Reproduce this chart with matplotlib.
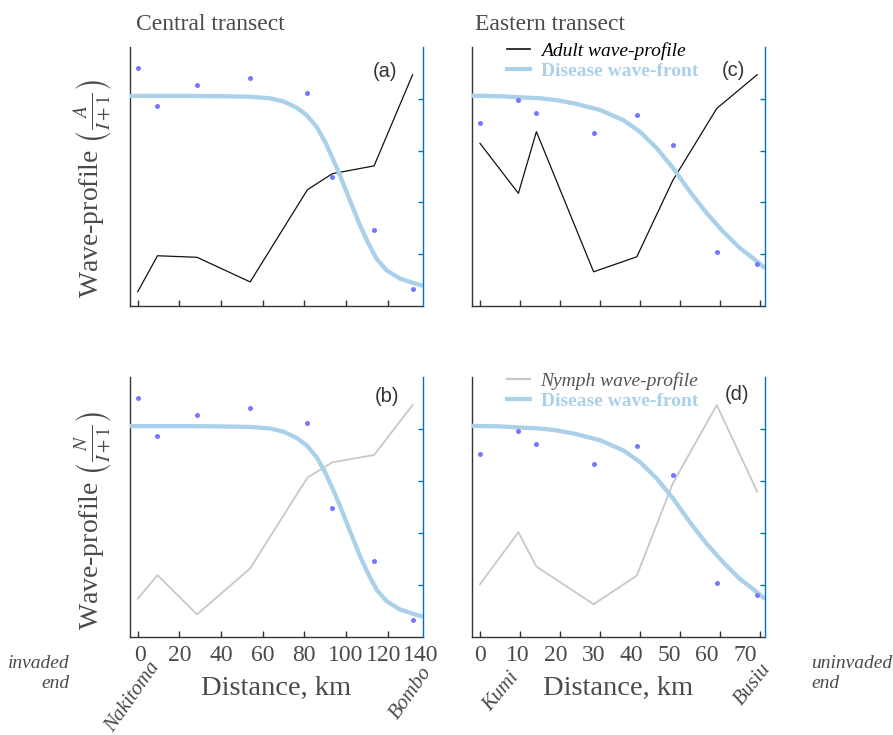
import matplotlib
matplotlib.use("Agg")
import matplotlib.pyplot as plt
from matplotlib.lines import Line2D

plt.rcParams['font.family'] = ['Liberation Serif', 'DejaVu Serif']
plt.rcParams['mathtext.fontset'] = 'stix'

# ---------------- data ----------------
central_km = [0, 9.5, 28.5, 54, 81.5, 93.5, 113.5, 132]
central_disease = [0.920, 0.772, 0.854, 0.880, 0.824, 0.497, 0.293, 0.067]
central_adult = [0.055, 0.194, 0.188, 0.093, 0.449, 0.511, 0.541, 0.893]
central_nymph = [0.147, 0.238, 0.087, 0.264, 0.613, 0.672, 0.700, 0.892]
central_front_km = [-3.7, 10, 25, 40, 53.9, 63.5, 69.9, 76.3, 81.1, 85.9, 89.9, 93.9,
                    97.1, 100.3, 103.5, 106.7, 110.7, 114.7, 119.5, 125.9, 132.3, 137]
central_front = [0.811, 0.811, 0.811, 0.810, 0.808, 0.802, 0.790, 0.766, 0.737, 0.692,
                 0.635, 0.565, 0.505, 0.440, 0.376, 0.312, 0.243, 0.182, 0.138, 0.106,
                 0.089, 0.078]

eastern_km = [0, 9.6, 14.1, 28.4, 39.2, 48.2, 59.2, 69.3]
eastern_disease = [0.705, 0.794, 0.744, 0.667, 0.736, 0.622, 0.207, 0.162]
eastern_adult = [0.628, 0.435, 0.673, 0.132, 0.190, 0.485, 0.763, 0.893]
eastern_nymph = [0.203, 0.403, 0.271, 0.126, 0.236, 0.591, 0.892, 0.559]
eastern_front_km = [-2, 5, 9.6, 15, 19, 23.3, 30, 35.8, 40, 44.2, 48.3, 52.5,
                    56.7, 60.8, 65, 68.3, 71.3]
eastern_front = [0.812, 0.810, 0.806, 0.802, 0.795, 0.783, 0.757, 0.718, 0.673, 0.609,
                 0.532, 0.441, 0.358, 0.287, 0.223, 0.184, 0.146]

central_ticks = [0, 20, 40, 60, 80, 100, 120]
central_ticklabel_pos = [1, 20, 40, 60, 80, 100, 118, 136]
central_ticklabels = ['0', '20', '40', '60', '80', '100', '120', '140']
eastern_ticks = [0, 10, 20, 30, 40, 50, 60, 70]
eastern_ticklabel_pos = [0, 9.5, 19, 28.3, 37.8, 47.3, 56.7, 66.2]
eastern_ticklabels = ['0', '10', '20', '30', '40', '50', '60', '70']
disease_ticks = [0.2, 0.4, 0.6, 0.8]

# ---------------- style ----------------
W, H = 893, 735
TXT = '#4a4a4a'
BLUE_AX = '#0072BD'
FRONT = '#abd0ea'
DOT = '#7777ff'

fig = plt.figure(figsize=(W / 100, H / 100), dpi=100)


def px_axes(l, t, r, b):
    return fig.add_axes([l / W, 1 - b / H, (r - l) / W, (b - t) / H])


def make_panel(box, km, disease, profile, prof_color, prof_lw, fkm, front,
               xlim, ticks, lab_pos, labels, show_labels, letter, letter_xy,
               legend_label=None):
    ax = px_axes(*box)
    ax2 = ax.twinx()
    ax.set_xlim(*xlim)
    ax.set_ylim(0, 1)
    ax2.set_ylim(0, 1)
    ax.plot(km, profile, color=prof_color, lw=prof_lw, zorder=2)
    ax2.plot(fkm, front, color=FRONT, lw=3.1, solid_capstyle='butt',
             solid_joinstyle='round', zorder=2)
    ax2.plot(km, disease, 'o', color=DOT, ms=3.6, mec='none', zorder=3)

    for s in ['top', 'right']:
        ax.spines[s].set_visible(False)
    for s in ['left', 'bottom']:
        ax.spines[s].set_color('#333333')
        ax.spines[s].set_linewidth(1.0)
    for s in ['top', 'left', 'bottom']:
        ax2.spines[s].set_visible(False)
    ax2.spines['right'].set_color(BLUE_AX)
    ax2.spines['right'].set_linewidth(1.0)

    ax.set_yticks([])
    ax2.set_yticks(disease_ticks)
    ax2.set_yticklabels([])
    ax2.tick_params(axis='y', direction='in', length=3.5, color=BLUE_AX, width=1)

    ax.xaxis.remove_overlapping_locs = False
    ax.set_xticks(ticks)
    ax.set_xticklabels([])
    ax.tick_params(axis='x', which='major', direction='in', length=4,
                   color='#333333', width=1)
    if show_labels:
        ax.set_xticks(lab_pos, labels, minor=True)
        ax.tick_params(axis='x', which='minor', length=0, pad=6,
                       labelsize=17, labelcolor=TXT)

    ax.text(letter_xy[0], letter_xy[1], letter, transform=ax.transAxes,
            ha='center', va='center', fontsize=14.5, color='#333333',
            family='Liberation Sans')

    if legend_label is not None:
        handles = [Line2D([], [], color=prof_color, lw=prof_lw + 0.3),
                   Line2D([], [], color=FRONT, lw=3.0)]
        leg = ax2.legend(handles, [legend_label, 'Disease wave-front'],
                         loc='upper left', bbox_to_anchor=(0.118, 1.02),
                         frameon=False, borderpad=0, borderaxespad=0,
                         handlelength=1.2, handletextpad=0.55, labelspacing=0.15,
                         prop={'family': 'Liberation Serif', 'size': 14})
        t0, t1 = leg.get_texts()
        t0.set_fontstyle('italic')
        t0.set_color('black' if prof_color == '#111111' else '#555555')
        t1.set_fontweight('bold')
        t1.set_color(FRONT)
    return ax


make_panel((130, 47, 423, 306), central_km, central_disease, central_adult,
           '#111111', 0.9, central_front_km, central_front, (-3.7, 137),
           central_ticks, central_ticklabel_pos, central_ticklabels, False,
           '(a)', (0.870, 0.905))
make_panel((472, 47, 765, 306), eastern_km, eastern_disease, eastern_adult,
           '#111111', 0.9, eastern_front_km, eastern_front, (-2, 71.25),
           eastern_ticks, eastern_ticklabel_pos, eastern_ticklabels, False,
           '(c)', (0.892, 0.911), legend_label='Adult wave-profile')
make_panel((130, 377, 423, 637), central_km, central_disease, central_nymph,
           '#c8c8c8', 1.3, central_front_km, central_front, (-3.7, 137),
           central_ticks, central_ticklabel_pos, central_ticklabels, True,
           '(b)', (0.876, 0.924))
make_panel((472, 377, 765, 637), eastern_km, eastern_disease, eastern_nymph,
           '#c8c8c8', 1.3, eastern_front_km, eastern_front, (-2, 71.25),
           eastern_ticks, eastern_ticklabel_pos, eastern_ticklabels, True,
           '(d)', (0.903, 0.931), legend_label='Nymph wave-profile')


def ftext(x, y, s, **kw):
    return fig.text(x / W, 1 - y / H, s, **kw)


ftext(136.5, 24, 'Central transect', ha='left', va='center', fontsize=17, color=TXT)
ftext(475, 24, 'Eastern transect', ha='left', va='center', fontsize=17, color=TXT)

ftext(94, 189, r'Wave-profile $\left(\frac{A}{I+1}\right)$', rotation=90,
      ha='center', va='center', fontsize=20, color=TXT)
ftext(94, 521, r'Wave-profile $\left(\frac{N}{I+1}\right)$', rotation=90,
      ha='center', va='center', fontsize=20, color=TXT)

ftext(276.5, 695, 'Distance, km', ha='center', va='baseline', fontsize=20.5, color=TXT)
ftext(618.5, 695, 'Distance, km', ha='center', va='baseline', fontsize=20.5, color=TXT)

ftext(133, 697, 'Nakitoma', rotation=55, ha='center', va='center', fontsize=15,
      style='italic', color=TXT)
ftext(411, 693, 'Bombo', rotation=55, ha='center', va='center', fontsize=15,
      style='italic', color=TXT)
ftext(501, 692, 'Kumi', rotation=50, ha='center', va='center', fontsize=15,
      style='italic', color=TXT)
ftext(753, 684, 'Busiu', rotation=52, ha='center', va='center', fontsize=15,
      style='italic', color=TXT)

ftext(70, 673.5, 'invaded\nend', ha='right', va='center', multialignment='right',
      fontsize=14, style='italic', color=TXT, linespacing=1.2)
ftext(811.5, 673.5, 'uninvaded\nend', ha='left', va='center', multialignment='left',
      fontsize=14, style='italic', color=TXT, linespacing=1.2)

fig.savefig('out.png', dpi=100)
